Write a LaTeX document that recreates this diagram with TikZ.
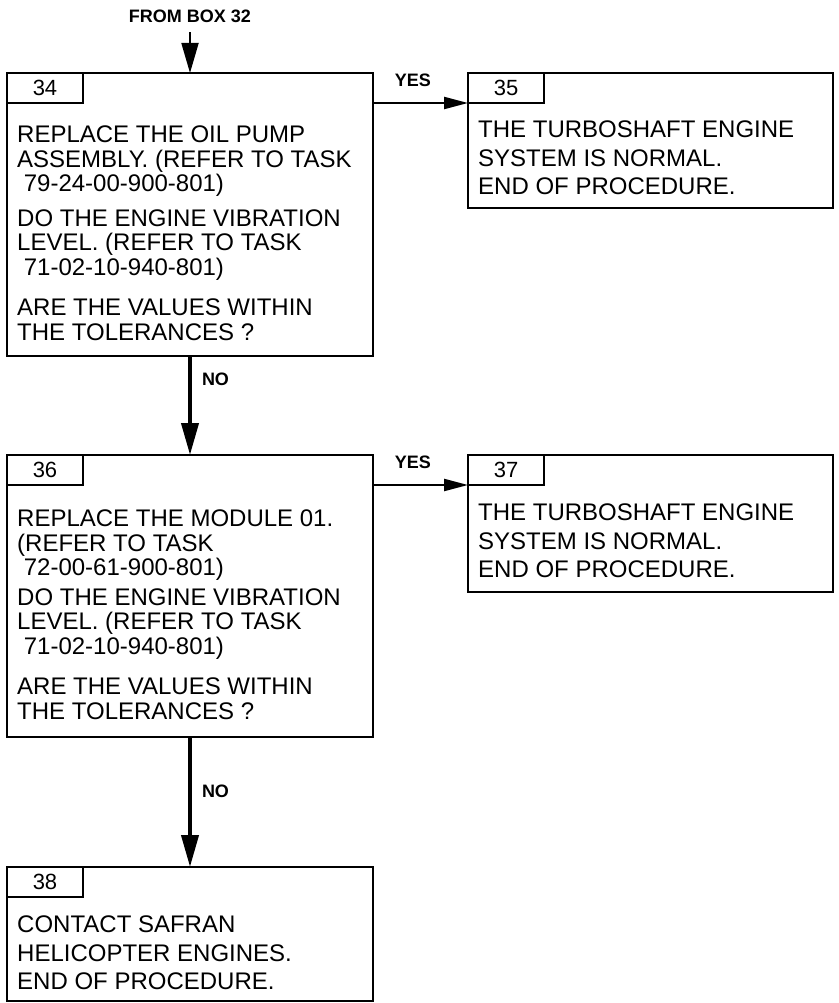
\documentclass[tikz,border=0pt]{standalone}
\usepackage{fontspec}
\setmainfont{Liberation Sans}
\usetikzlibrary{arrows.meta}
\tikzset{
  stepframe/.style={draw, line width=2.7pt, inner sep=0pt, outer sep=0pt, anchor=north west},
  numtab/.style={draw, line width=2.5pt, minimum width=76pt, minimum height=30pt, inner sep=0pt, outer sep=0pt, anchor=north west, font=\fontsize{22}{22}\selectfont},
  steptext/.style={anchor=north west, inner sep=0pt, align=left, font=\fontsize{24}{24.5}\selectfont},
  answer/.style={font=\bfseries\fontsize{18}{18}\selectfont, inner sep=0pt},
  noarrow/.style={line width=4pt, -{Triangle[length=32pt,width=17pt]}},
  yesarrow/.style={line width=2.2pt, -{Triangle[length=24pt,width=12pt]}},
  fromarrow/.style={line width=1.8pt, -{Triangle[length=30pt,width=17pt]}},
}
\begin{document}
\begin{tikzpicture}[x=1pt,y=-1pt]
\useasboundingbox (0,0) rectangle (838,1003);
\node[answer] (from32) at (190,16.5) {FROM BOX 32};

\node[stepframe, minimum width=366pt, minimum height=283pt] (b34) at (7,73) {};
\node[numtab] (t34) at (b34.north west) {34};
\node[steptext] at ([shift={(10,53)}]b34.north west) {REPLACE THE OIL PUMP\\ASSEMBLY. (REFER TO TASK\\\ 79-24-00-900-801)\\[10pt]DO THE ENGINE VIBRATION\\LEVEL. (REFER TO TASK\\\ 71-02-10-940-801)\\[16pt]ARE THE VALUES WITHIN\\THE TOLERANCES ?};

\node[stepframe, minimum width=365pt, minimum height=135pt] (b35) at (468,73) {};
\node[numtab] (t35) at (b35.north west) {35};
\node[steptext] at ([shift={(10,48)}]b35.north west) {THE TURBOSHAFT ENGINE\\[4pt]SYSTEM IS NORMAL.\\[4pt]END OF PROCEDURE.};

\node[stepframe, minimum width=366pt, minimum height=282pt] (b36) at (7,455) {};
\node[numtab] (t36) at (b36.north west) {36};
\node[steptext] at ([shift={(10,55)}]b36.north west) {REPLACE THE MODULE 01.\\(REFER TO TASK\\\ 72-00-61-900-801)\\[5pt]DO THE ENGINE VIBRATION\\LEVEL. (REFER TO TASK\\\ 71-02-10-940-801)\\[16pt]ARE THE VALUES WITHIN\\THE TOLERANCES ?};

\node[stepframe, minimum width=365pt, minimum height=137pt] (b37) at (468,455) {};
\node[numtab] (t37) at (b37.north west) {37};
\node[steptext] at ([shift={(10,49)}]b37.north west) {THE TURBOSHAFT ENGINE\\[4pt]SYSTEM IS NORMAL.\\[4pt]END OF PROCEDURE.};

\node[stepframe, minimum width=366pt, minimum height=134pt] (b38) at (7,867) {};
\node[numtab] (t38) at (b38.north west) {38};
\node[steptext] at ([shift={(10,49)}]b38.north west) {CONTACT SAFRAN\\[4pt]HELICOPTER ENGINES.\\[4pt]END OF PROCEDURE.};

\draw[fromarrow, shorten <=9pt] (from32.south) -- (b34.north);
\draw[yesarrow] (b34.east |- t35.south west) -- (t35.south west) node[answer, pos=.42, above=15pt] {YES};
\draw[noarrow] (b34.south) -- (b36.north) node[answer, pos=.24, right=10pt] {NO};
\draw[yesarrow] (b36.east |- t37.south west) -- (t37.south west) node[answer, pos=.42, above=15pt] {YES};
\draw[noarrow] (b36.south) -- (b38.north) node[answer, pos=.42, right=10pt] {NO};
\end{tikzpicture}
\end{document}
